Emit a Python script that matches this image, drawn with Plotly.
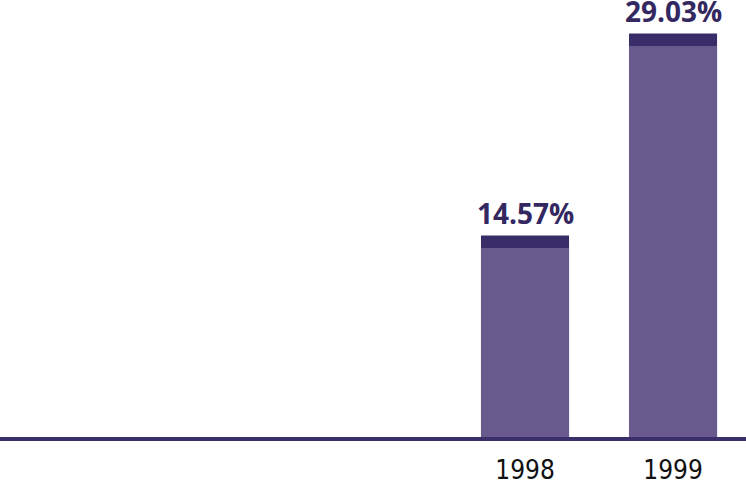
import plotly.graph_objects as go

years = [1998, 1999]
values = [14.57, 29.03]
labels = ["14.57%", "29.03%"]
tick_labels = ["1998", "1999"]

CAP = 0.9
BAR_W = 0.595
light = "#685a8d"
dark = "#382c69"

fig = go.Figure()
fig.add_trace(go.Bar(x=years, y=values, width=BAR_W, marker=dict(color=dark, line=dict(width=0)),
                     hoverinfo="skip"))
fig.add_trace(go.Bar(x=years, y=[v - CAP for v in values], width=BAR_W,
                     marker=dict(color=light, line=dict(width=0)), hoverinfo="skip"))

for x, v, t in zip(years, values, labels):
    fig.add_annotation(x=x, y=v, text=t, showarrow=False, yanchor="bottom", yshift=1,
                       font=dict(family="Open Sans", size=28, color="#33285f", weight="bold"))

fig.add_shape(type="line", xref="paper", x0=0, x1=1, yref="paper", y0=0, y1=0,
              line=dict(color="#3a2f6a", width=4), layer="above")

fig.update_layout(
    width=746, height=484,
    margin=dict(l=0, r=0, t=0, b=45),
    barmode="overlay",
    showlegend=False,
    plot_bgcolor="white", paper_bgcolor="white",
    xaxis=dict(range=[1994.453, 1999.493], tickvals=years, ticktext=tick_labels,
               showgrid=False, zeroline=False, showline=False,
               ticks="", ticklabelstandoff=13,
               tickfont=dict(family="Liberation Sans Narrow, DejaVu Sans Condensed", size=26, color="#111111")),
    yaxis=dict(range=[0, 31.42], visible=False, showgrid=False, zeroline=False),
)
fig.write_html("out.html", config={"displayModeBar": False},
               post_script="document.body.style.margin='0';document.body.style.overflow='hidden';")
